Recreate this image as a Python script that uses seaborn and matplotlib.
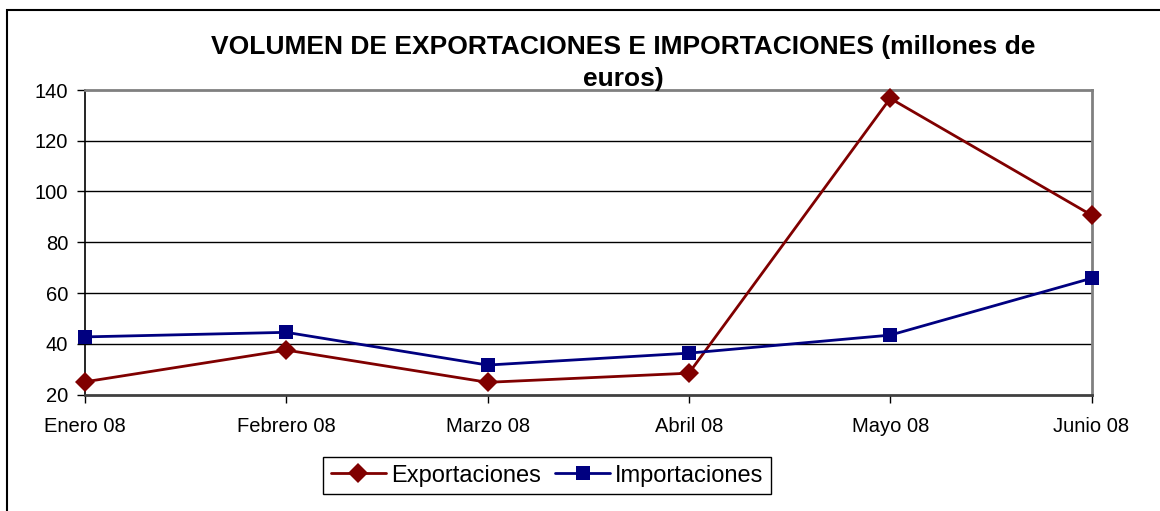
import matplotlib
matplotlib.use("Agg")
import matplotlib.pyplot as plt
import seaborn as sns
import pandas as pd
from matplotlib.patches import Rectangle

months = ["Enero 08", "Febrero 08", "Marzo 08", "Abril 08", "Mayo 08", "Junio 08"]
exportaciones = [25.0, 37.5, 24.8, 28.4, 136.7, 90.7]
importaciones = [42.7, 44.5, 31.6, 36.3, 43.4, 65.8]
yticks = [20, 40, 60, 80, 100, 120, 140]
title = "VOLUMEN DE EXPORTACIONES E IMPORTACIONES (millones de\neuros)"

sns.set_theme(style="white")
plt.rcParams['font.family'] = ['Liberation Sans', 'DejaVu Sans']
plt.rcParams['text.color'] = 'black'

df = pd.DataFrame({
    "mes": months * 2,
    "valor": exportaciones + importaciones,
    "serie": ["Exportaciones"] * len(months) + ["Importaciones"] * len(months),
})

fig = plt.figure(figsize=(11.6, 5.11), dpi=100)
ax = fig.add_axes([85/1160, 1 - 394.5/511, (1091.5-85)/1160, (394.5-90)/511])

sns.lineplot(data=df, x="mes", y="valor", hue="serie", style="serie",
             palette={"Exportaciones": "#800000", "Importaciones": "#000080"},
             markers={"Exportaciones": "D", "Importaciones": "s"},
             dashes=False, linewidth=2, markersize=10.5, markeredgewidth=0,
             ax=ax, sort=False, clip_on=False, zorder=5)

ax.set_ylim(20, 140)
ax.set_xlim(0, len(months) - 1)
ax.set_yticks(yticks)
ax.set_xticks(range(len(months)))
ax.set_xticklabels(months)
ax.set_xlabel("")
ax.set_ylabel("")
ax.grid(False)
for v in yticks[1:-1]:
    ax.axhline(v, color="black", linewidth=1, zorder=0)

ax.spines["top"].set_color("#808080")
ax.spines["right"].set_color("#808080")
ax.spines["top"].set_linewidth(2)
ax.spines["right"].set_linewidth(2)
ax.spines["left"].set_color("black")
ax.spines["bottom"].set_color("#404040")
ax.spines["left"].set_linewidth(1.2)
ax.spines["bottom"].set_linewidth(2)

ax.tick_params(axis="both", which="major", direction="out", length=6, width=1,
               color="black", labelsize=14.5, labelcolor="black", left=True, bottom=True)
ax.tick_params(axis="x", pad=10)
ax.tick_params(axis="y", pad=6)

fig.text(623/1160, 1 - 63/511, title, ha="center", va="center",
         fontsize=19, fontweight="bold", linespacing=1.45, color="black")

handles, labels = ax.get_legend_handles_labels()
leg = ax.legend(handles, labels, loc="center", bbox_to_anchor=(547/1160, 1 - 475.5/511),
                bbox_transform=fig.transFigure, ncol=2, frameon=True, fancybox=False,
                fontsize=17, handlelength=2.35, handletextpad=0.2, columnspacing=0.6,
                borderpad=0.33, borderaxespad=0, framealpha=1)
leg.get_frame().set_edgecolor("black")
leg.get_frame().set_linewidth(1)
for t in leg.get_texts():
    t.set_color("black")

fig.patches.append(Rectangle((7/1160, -0.1), 1.2, 1 - 9.5/511 + 0.1,
                             transform=fig.transFigure, fill=False,
                             edgecolor="black", linewidth=1.5))

fig.savefig("out.png", dpi=100, facecolor="white")
